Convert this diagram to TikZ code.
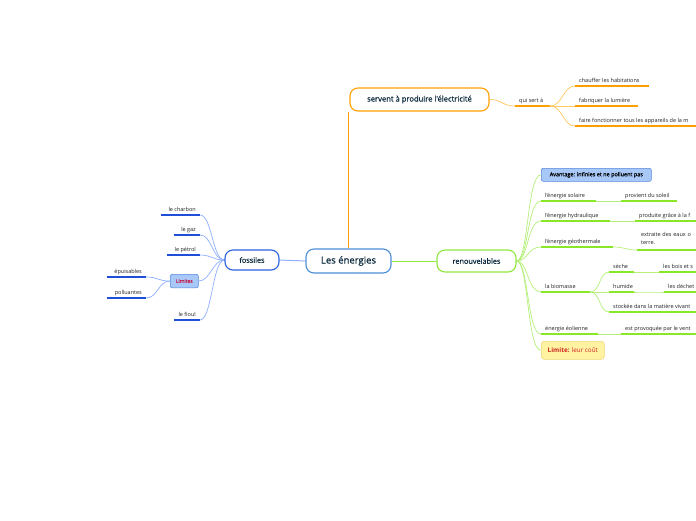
\documentclass[tikz,border=0pt]{standalone}
\usepackage{fontspec}
\setmainfont{Open Sans}
\newfontfamily\medfont{Open Sans}[FakeBold=0.6]
\usetikzlibrary{backgrounds}
\definecolor{txt}{HTML}{0D2B3E}
\definecolor{leaftxt}{HTML}{222222}
\definecolor{ctrc}{HTML}{4A90D8}
\definecolor{fosc}{HTML}{2A62E0}
\definecolor{renc}{HTML}{8EE83C}
\definecolor{srvc}{HTML}{FFA000}
\definecolor{conbc}{HTML}{8FB0FF}
\definecolor{congc}{HTML}{B6F07A}
\definecolor{conoc}{HTML}{FFC860}
\definecolor{ulbc}{HTML}{1F4FD8}
\definecolor{ulgc}{HTML}{88E828}
\definecolor{uloc}{HTML}{FFA000}
\definecolor{bluefill}{HTML}{A8C8F8}
\definecolor{blueedge}{HTML}{5588DD}
\definecolor{yelfill}{HTML}{FFF2A0}
\definecolor{yeledge}{HTML}{F0D878}
\definecolor{redtxt}{HTML}{CC2222}
\definecolor{pinktxt}{HTML}{C42050}
\newcommand\ltx[2]{\makebox[#1][l]{#2}}
\newcommand\rtx[2]{\makebox[#1][r]{#2}}
\begin{document}
\begin{tikzpicture}[x=1pt,y=-1pt,
  mainbox/.style={rounded corners=8pt, fill=white, line width=1.1pt, inner sep=0pt, text=txt},
  leafnode/.style={inner xsep=4pt, inner ysep=2.5pt, text height=4.2pt, text depth=1.3pt,
    font=\fontsize{5.5}{6.5}\selectfont, text=leaftxt},
  bluebox/.style={rounded corners=2pt, fill=bluefill, draw=blueedge, line width=0.6pt, inner sep=0pt},
  conb/.style={draw=conbc, line width=0.7pt},
  cong/.style={draw=congc, line width=0.7pt},
  cono/.style={draw=conoc, line width=0.7pt},
  ulb/.style={draw=ulbc, line width=1.3pt},
  ulg/.style={draw=ulgc, line width=1.3pt},
  ulo/.style={draw=uloc, line width=1.3pt}]
\useasboundingbox (0,0) rectangle (696,520);

% main nodes
\node[mainbox, draw=ctrc, minimum width=85pt, minimum height=24pt, font=\medfont\fontsize{9.5}{11}\selectfont] (ctr) at (348.5,261) {Les énergies};
\node[mainbox, draw=fosc, minimum width=54pt, minimum height=20pt, font=\medfont\fontsize{7.3}{9}\selectfont] (fos) at (252,260) {fossiles};
\node[mainbox, draw=renc, minimum width=79pt, minimum height=22pt, font=\medfont\fontsize{7.3}{9}\selectfont] (ren) at (476.5,261) {renouvelables};
\node[mainbox, draw=srvc, minimum width=139pt, minimum height=23pt, font=\medfont\fontsize{7.6}{9}\selectfont] (srv) at (419.5,99.5) {servent à produire l'électricité};

% orange branch
\node[leafnode, anchor=south west] (qsa) at (515,106) {\ltx{27pt}{qui sert à}};
\node[leafnode, anchor=south west] (ch1) at (575,86) {\ltx{66pt}{chauffer les habitations}};
\node[leafnode, anchor=south west] (ch2) at (575,106) {\ltx{55pt}{fabriquer la lumière}};
\node[leafnode, anchor=south west] (ch3) at (575,126) {\ltx{140pt}{faire fonctionner tous les appareils de la m}};

% green branch
\node[bluebox, anchor=north west, minimum width=110pt, minimum height=13pt, font=\medfont\fontsize{5.5}{6.5}\selectfont, text=black] (av) at (541,168) {Avantage: infinies et ne polluent pas};
\node[leafnode, anchor=south west] (sol) at (541,201) {\ltx{47pt}{l'énergie solaire}};
\node[leafnode, anchor=south west] (solc) at (621,201) {\ltx{48pt}{provient du soleil}};
\node[leafnode, anchor=south west] (hyd) at (541,221) {\ltx{61pt}{l'énergie hydraulique}};
\node[leafnode, anchor=south west] (hydc) at (635,221) {\ltx{100pt}{produite grâce à la f}};
\node[leafnode, anchor=south west] (geo) at (541,247) {\ltx{64pt}{l'énergie géothermale}};
\node[inner xsep=4pt, inner ysep=5pt, font=\fontsize{5.5}{8.5}\selectfont, text=leaftxt, text width=90pt, align=left, anchor=south west] (geoc) at (637,250) {extraite des eaux o\\terre.};
\node[leafnode, anchor=south west] (bio) at (541,292) {\ltx{41pt}{la biomasse}};
\node[leafnode, anchor=south west] (sec) at (609,272) {\ltx{17pt}{sèche}};
\node[leafnode, anchor=south west] (secc) at (659,272) {\ltx{80pt}{les bois et s}};
\node[leafnode, anchor=south west] (hum) at (609,292) {\ltx{17pt}{humide}};
\node[leafnode, anchor=south west] (humc) at (664,292) {\ltx{80pt}{les déchet}};
\node[leafnode, anchor=south west] (sto) at (609,312) {\ltx{120pt}{stockée dans la matière vivant}};
\node[leafnode, anchor=south west] (eol) at (541,334) {\ltx{49pt}{énergie éolienne}};
\node[leafnode, anchor=south west] (eolc) at (621,334) {\ltx{100pt}{est provoquée par le vent}};
\node[rounded corners=3pt, fill=yelfill, draw=yeledge, line width=0.6pt, inner sep=0pt, anchor=north west, minimum width=63pt, minimum height=18pt, font=\fontsize{6.3}{7.5}\selectfont, text=redtxt] (limr) at (541,341) {\textbf{Limite:} leur coût};

% blue branch
\node[leafnode, anchor=south east] (cha) at (200,215) {\rtx{31pt}{le charbon}};
\node[leafnode, anchor=south east] (gaz) at (200,235) {\rtx{18pt}{le gaz}};
\node[leafnode, anchor=south east] (pet) at (200,255) {\rtx{25pt}{le pétrol}};
\node[bluebox, anchor=north west, minimum width=28pt, minimum height=13.5pt, font=\medfont\fontsize{5}{6}\selectfont, text=pinktxt] (lims) at (170,274) {Limites};
\node[leafnode, anchor=south east] (epu) at (146,277) {\rtx{31pt}{épuisables}};
\node[leafnode, anchor=south east] (pol) at (146,298) {\rtx{31pt}{polluantes}};
\node[leafnode, anchor=south east] (fio) at (200,320) {\rtx{18pt}{le fioul}};

% underlines
\foreach \n in {qsa,ch1,ch2,ch3} \draw[ulo] (\n.south west) -- (\n.south east);
\foreach \n in {sol,solc,hyd,hydc,geo,geoc,bio,sec,secc,hum,humc,sto,eol,eolc} \draw[ulg] (\n.south west) -- (\n.south east);
\foreach \n in {cha,gaz,pet,epu,pol,fio} \draw[ulb] (\n.south west) -- (\n.south east);

\begin{scope}[on background layer]
  \fill[white] (0,0) rectangle (696,520);
  % central links
  \draw[conb, line width=1pt] (ctr.west) -- (fos.east);
  \draw[draw=renc, line width=1pt] (ctr.east) -- (ren.west);
  \draw[draw=srvc, line width=1.4pt] (ctr.north) -- (ctr.north |- srv.south);
  % orange
  \draw[cono] (srv.east) .. controls +(13,0) and +(-13,0) .. (qsa.south west);
  \foreach \n in {ch1,ch2,ch3}
    \draw[cono] (qsa.south east) .. controls +(12,0) and +(-12,0) .. (\n.south west);
  % green
  \draw[cong] (ren.east) .. controls +(12,0) and +(-14,0) .. (av.west);
  \draw[cong] (ren.east) .. controls +(12,0) and +(-14,0) .. (limr.west);
  \foreach \n in {sol,hyd,geo,bio,eol}
    \draw[cong] (ren.east) .. controls +(12,0) and +(-14,0) .. (\n.south west);
  \draw[cong] (sol.south east) .. controls +(12,0) and +(-12,0) .. (solc.south west);
  \draw[cong] (hyd.south east) .. controls +(12,0) and +(-12,0) .. (hydc.south west);
  \draw[cong] (geo.south east) .. controls +(12,0) and +(-12,0) .. (geoc.south west);
  \foreach \n in {sec,hum,sto}
    \draw[cong] (bio.south east) .. controls +(10,0) and +(-10,0) .. (\n.south west);
  \draw[cong] (sec.south east) .. controls +(12,0) and +(-12,0) .. (secc.south west);
  \draw[cong] (hum.south east) .. controls +(12,0) and +(-12,0) .. (humc.south west);
  \draw[cong] (eol.south east) -- (eolc.south west);
  % blue
  \foreach \n in {cha,gaz,pet,fio}
    \draw[conb] (fos.west) .. controls +(-12,0) and +(12,0) .. (\n.south east);
  \draw[conb] (fos.west) .. controls +(-12,0) and +(12,0) .. (lims.east);
  \foreach \n in {epu,pol}
    \draw[conb] (lims.west) .. controls +(-12,0) and +(12,0) .. (\n.south east);
\end{scope}
\end{tikzpicture}
\end{document}
